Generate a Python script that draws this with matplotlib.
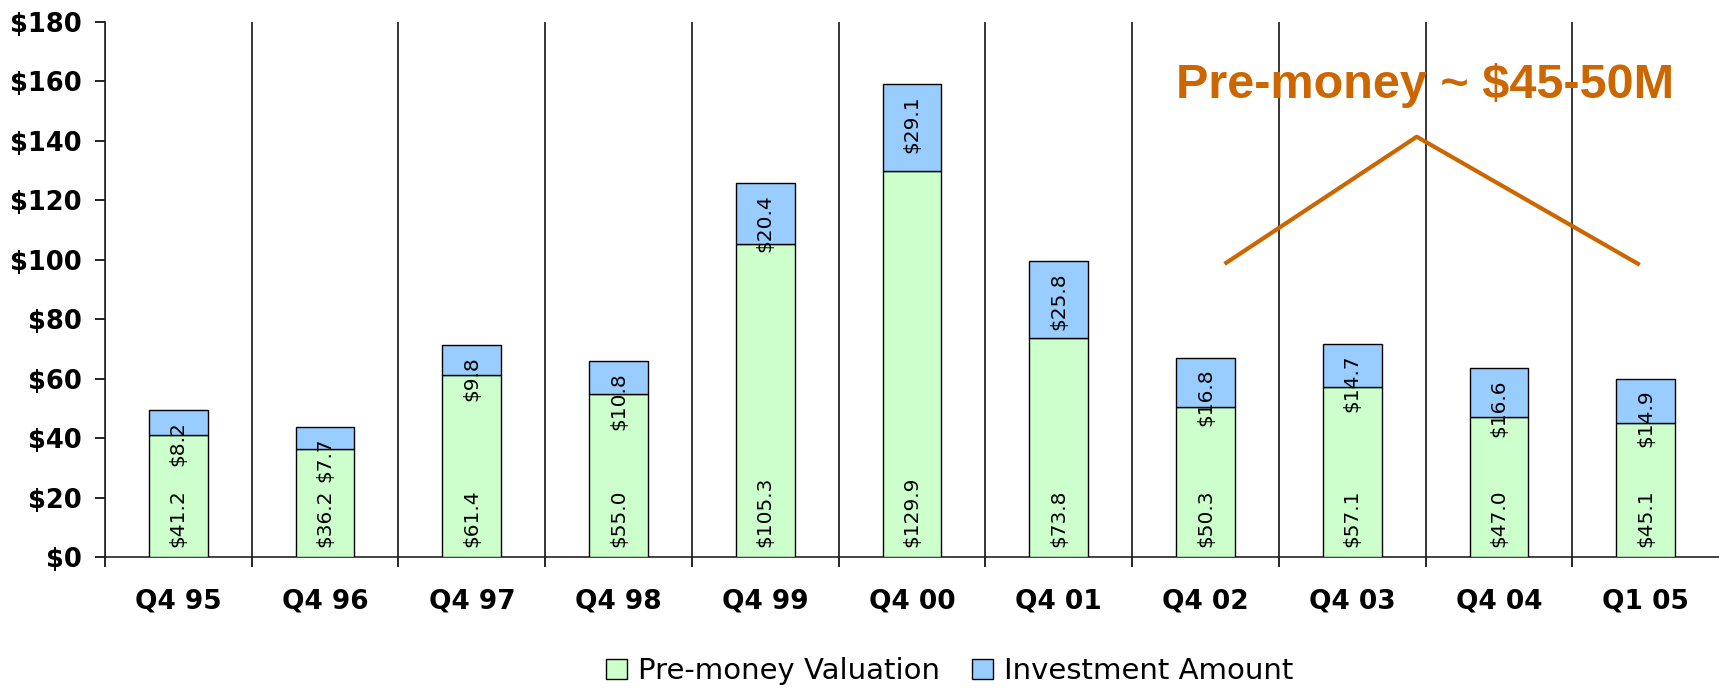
import matplotlib
matplotlib.use("Agg")
import matplotlib.pyplot as plt
import numpy as np

quarters = ["Q4 95", "Q4 96", "Q4 97", "Q4 98", "Q4 99", "Q4 00",
            "Q4 01", "Q4 02", "Q4 03", "Q4 04", "Q1 05"]
pre_money = [41.2, 36.2, 61.4, 55.0, 105.3, 129.9, 73.8, 50.3, 57.1, 47.0, 45.1]
investment = [8.2, 7.7, 9.8, 10.8, 20.4, 29.1, 25.8, 16.8, 14.7, 16.6, 14.9]
y_ticks = [0, 20, 40, 60, 80, 100, 120, 140, 160, 180]

# chevron + callout (data coords)
callout_text = "Pre-money ~ $45-50M"
chevron_x = [7.13, 8.44, 9.96]
chevron_y = [98.6, 141.4, 98.3]

green = '#CCFFCC'
blue = '#99CCFF'
orange = '#CC6600'

fig = plt.figure(figsize=(17.19, 6.88), dpi=100)
ax = fig.add_axes([105 / 1719, 131 / 688, 1 - 105 / 1719, (557 - 22) / 688])

x = np.arange(len(quarters))
b1 = ax.bar(x, pre_money, width=0.4, color=green, edgecolor='black', linewidth=1.0,
            label='Pre-money Valuation', zorder=3)
b2 = ax.bar(x, investment, width=0.4, bottom=pre_money, color=blue, edgecolor='black',
            linewidth=1.0, label='Investment Amount', zorder=3)

# data labels: pre-money inside base, investment inside end
for i in range(len(quarters)):
    ax.annotate(f"${pre_money[i]:.1f}", (x[i], 0), xytext=(0, 7), textcoords='offset points',
                rotation=90, ha='center', va='bottom', fontsize=14.5, zorder=5)
    top = pre_money[i] + investment[i]
    ax.annotate(f"${investment[i]:.1f}", (x[i], top), xytext=(0, -8), textcoords='offset points',
                rotation=90, ha='center', va='top', fontsize=14.5, zorder=5)

ax.set_xlim(-0.5, len(quarters) - 0.5)
ax.set_ylim(0, 180)

ax.set_yticks(y_ticks)
ax.set_yticklabels([f"${v}" for v in y_ticks], fontweight='bold', fontsize=18.5)
ax.tick_params(axis='y', direction='out', length=7, width=1.2, pad=10, colors='black')

ax.set_xticks(x)
ax.set_xticklabels(quarters, fontweight='bold', fontsize=19)
ax.tick_params(axis='x', which='major', length=0, pad=23)
# boundaries between categories (none at the far right edge)
ax.set_xticks(np.arange(-0.5, len(quarters) - 1, 1.0), minor=True)
ax.tick_params(axis='x', which='minor', direction='out', length=7, width=1.2)

# vertical separators between categories
ax.grid(False)
ax.xaxis.grid(True, which='minor', color='black', linewidth=1.1)
ax.set_axisbelow(True)

for s in ['top', 'right']:
    ax.spines[s].set_visible(False)
ax.spines['left'].set_linewidth(1.2)
ax.spines['bottom'].set_linewidth(1.2)
ax.spines['bottom'].set_color('#222222')
ax.spines['left'].set_color('#222222')

# callout
ax.plot(chevron_x, chevron_y, color=orange, linewidth=3, solid_capstyle='butt', zorder=4)
ax.text(8.5, 154.3, callout_text, color=orange, fontsize=35, fontweight='bold',
        family='Liberation Sans', ha='center', va='baseline', zorder=6)

fig.legend(handles=[b1, b2], loc='center', bbox_to_anchor=(950 / 1719, 1 - 671 / 688),
           ncol=2, frameon=False, fontsize=21, handlelength=0.7, handleheight=0.7,
           handletextpad=0.4, columnspacing=1.1)

fig.savefig("out.png", dpi=100)
